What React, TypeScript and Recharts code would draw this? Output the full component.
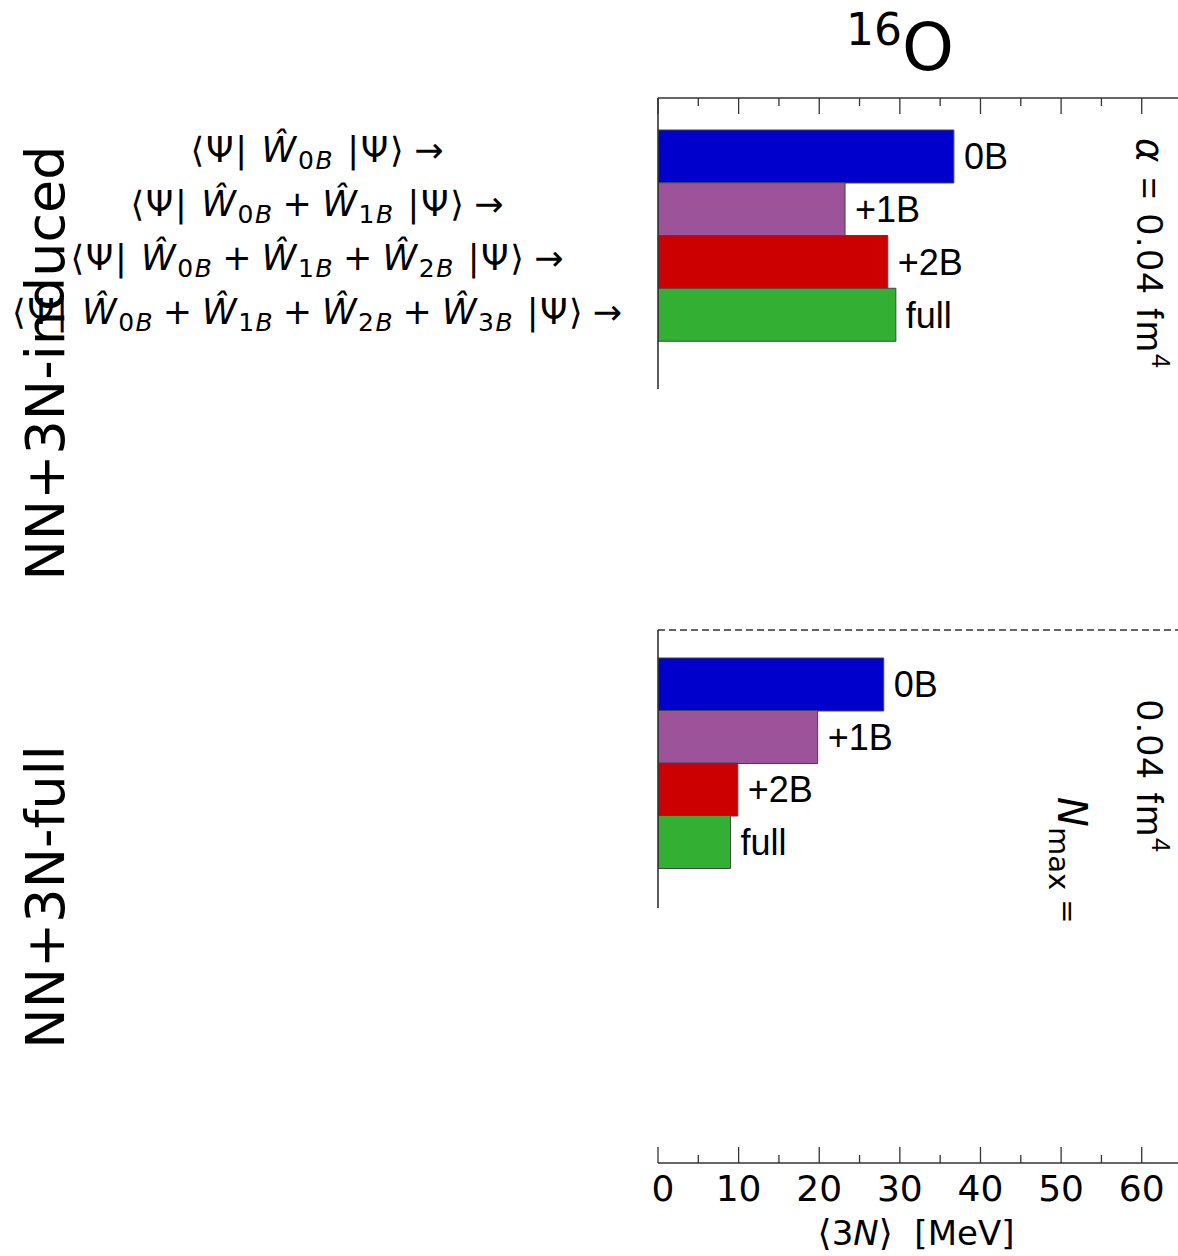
import { BarChart, Bar, XAxis, YAxis, Cell, LabelList } from "recharts"

const terms = ["0B", "+1B", "+2B", "full"]
const inducedValues = [36.7, 23.2, 28.5, 29.5]
const fullValues = [28.0, 19.8, 9.9, 9.0]
const barColors = ["#0000cc", "#9c5399", "#cc0000", "#33b034"]
const xTicks = [0, 5, 10, 15, 20, 25, 30, 35, 40, 45, 50, 55, 60]
const xDomain = [0, 64.5]
const hatSubs = ["0", "1", "2", "3"]
const panelNames = ["NN+3N-induced", "NN+3N-full"]

const W = 1178
const AXIS = "#333"

const toRows = (values: number[]) => terms.map((term, i) => ({ term, value: values[i] }))

// ticks drawn inward from the top axis line
function TopTick(props: any) {
  const { x, y, payload } = props
  const len = payload.value % 10 === 0 ? 16 : 8
  return <line x1={x} x2={x} y1={y} y2={y + len} stroke={AXIS} strokeWidth={1.3} />
}

// ticks drawn upward from the bottom axis line, labels on major ones
function BottomTick(props: any) {
  const { x, y, payload } = props
  const major = payload.value % 10 === 0
  return (
    <g>
      <line x1={x} x2={x} y1={y} y2={y - (major ? 16 : 8)} stroke={AXIS} strokeWidth={1.3} />
      {major && (
        <text x={payload.value === 0 ? x + 5 : x} y={y + 38} textAnchor="middle" fontSize={36}
          fontFamily="DejaVu Sans" fill="#000">
          {payload.value}
        </text>
      )}
    </g>
  )
}

function Panel({ values, height, top, bottom, padTop, padBottom, dashed }: any) {
  return (
    <div style={{ position: "absolute", left: 0, top: 0 }}>
      <BarChart
        width={W}
        height={height}
        data={toRows(values)}
        layout="vertical"
        margin={{ top: top - 1, right: 0, left: 657, bottom }}
        barCategoryGap={0}
        barGap={0}
      >
        <XAxis
          type="number"
          orientation="top"
          domain={xDomain}
          allowDataOverflow
          ticks={xTicks}
          interval={0}
          height={1}
          tickSize={0}
          tickMargin={0}
          tickLine={false}
          tick={dashed ? false : <TopTick />}
          axisLine={dashed ? { stroke: AXIS, strokeWidth: 1.3, strokeDasharray: "7 4" } : { stroke: AXIS, strokeWidth: 1.6 }}
        />
        <YAxis
          type="category"
          dataKey="term"
          width={1}
          tick={false}
          tickLine={false}
          axisLine={{ stroke: AXIS, strokeWidth: 1.6 }}
          padding={{ top: padTop, bottom: padBottom }}
        />
        <Bar dataKey="value" isAnimationActive={false} stroke="#444" strokeWidth={1}>
          {values.map((_: number, i: number) => (
            <Cell key={i} fill={barColors[i]} />
          ))}
          <LabelList
            dataKey="term"
            position="right"
            offset={10}
            fill="#000"
            stroke="none"
            fontSize={36}
            fontFamily="Liberation Sans"
          />
        </Bar>
      </BarChart>
    </div>
  )
}

// shared value axis at the foot of the figure
function BottomAxis() {
  return (
    <div style={{ position: "absolute", left: 0, top: 0 }}>
      <BarChart
        width={W}
        height={1256}
        data={toRows(fullValues)}
        layout="vertical"
        margin={{ top: 1100, right: 0, left: 658, bottom: 92 }}
      >
        <XAxis
          type="number"
          orientation="bottom"
          domain={xDomain}
          allowDataOverflow
          ticks={xTicks}
          interval={0}
          height={1}
          tickSize={0}
          tickMargin={0}
          tickLine={false}
          tick={<BottomTick />}
          axisLine={{ stroke: AXIS, strokeWidth: 1.6 }}
        />
        <YAxis type="category" dataKey="term" hide />
        <Bar dataKey="value" isAnimationActive={false} fill="none" stroke="none" />
      </BarChart>
    </div>
  )
}

const sub = (s: string) => [
  <tspan key="a" fontSize={25} dy={7}>{s}</tspan>,
  <tspan key="b" fontSize={25} fontStyle="italic">B</tspan>,
]

function MathRow({ n, y, width }: { n: number; y: number; width: number }) {
  const parts: any[] = [<tspan key="open">{"⟨Ψ|\u00a0"}</tspan>]
  hatSubs.slice(0, n).forEach((s, i) => {
    parts.push(
      <tspan key={"w" + i} fontStyle="italic" dy={i === 0 ? 0 : -7}>
        {i === 0 ? "Ŵ" : "\u2009+\u2009Ŵ"}
      </tspan>
    )
    parts.push(<tspan key={"s" + i}>{sub(s)}</tspan>)
  })
  parts.push(<tspan key="close" dy={-7}>{"\u00a0|Ψ⟩\u2009→"}</tspan>)
  return (
    <text x={317} y={y} textAnchor="middle" fontSize={35} fontFamily="DejaVu Sans" fill="#000"
      textLength={width} lengthAdjust="spacing">
      {parts}
    </text>
  )
}

function Overlay() {
  return (
    <svg width={W} height={1256} style={{ position: "absolute", left: 0, top: 0 }}>
      <text x={846} y={70} fontSize={66} fontFamily="DejaVu Sans" fill="#000">
        <tspan fontSize={44} dy={-25}>16</tspan>
        <tspan dy={25}>O</tspan>
      </text>

      <MathRow n={1} y={162} width={253} />
      <MathRow n={2} y={216} width={373} />
      <MathRow n={3} y={270} width={493} />
      <MathRow n={4} y={324} width={610} />

      <text transform="translate(64,363) rotate(-90)" textAnchor="middle" fontSize={54}
        fontFamily="DejaVu Sans" fill="#000">
        {panelNames[0]}
      </text>
      <text transform="translate(64,897) rotate(-90)" textAnchor="middle" fontSize={54}
        fontFamily="DejaVu Sans" fill="#000">
        {panelNames[1]}
      </text>

      <text transform="translate(1137,138) rotate(90)" fontSize={37} fontFamily="Liberation Sans" fill="#000"
        textLength={230} lengthAdjust="spacing">
        <tspan fontFamily="DejaVu Sans" fontStyle="italic">α</tspan>
        <tspan>{"\u00a0=\u00a00.04\u00a0fm"}</tspan>
        <tspan fontSize={25} dy={-15}>4</tspan>
      </text>

      <text transform="translate(1137,700) rotate(90)" fontSize={37} fontFamily="Liberation Sans" fill="#000"
        textLength={152} lengthAdjust="spacing">
        <tspan>{"0.04\u00a0fm"}</tspan>
        <tspan fontSize={25} dy={-15}>4</tspan>
      </text>

      <text transform="translate(1058,797) rotate(90)" fontSize={40} fontFamily="DejaVu Sans" fill="#000">
        <tspan fontStyle="italic">N</tspan>
        <tspan fontSize={29} dy={9}>max</tspan>
        <tspan fontSize={29} dy={-9}>{"\u00a0="}</tspan>
      </text>

      <text x={916} y={1245} textAnchor="middle" fontSize={34} fontFamily="DejaVu Sans" fill="#000">
        <tspan fontSize={36}>⟨</tspan>
        <tspan>3</tspan>
        <tspan fontStyle="italic">N</tspan>
        <tspan fontSize={36}>⟩</tspan>
        <tspan>{"\u00a0\u00a0[MeV]"}</tspan>
      </text>
    </svg>
  )
}

export default function App() {
  return (
    <div style={{ position: "absolute", left: 0, top: 0, width: W, height: 1256, background: "#fff" }}>
      <Panel values={inducedValues} height={400} top={98} bottom={11} padTop={32} padBottom={48} dashed={false} />
      <Panel values={fullValues} height={920} top={630} bottom={12} padTop={28} padBottom={40} dashed={true} />
      <BottomAxis />
      <Overlay />
    </div>
  )
}
